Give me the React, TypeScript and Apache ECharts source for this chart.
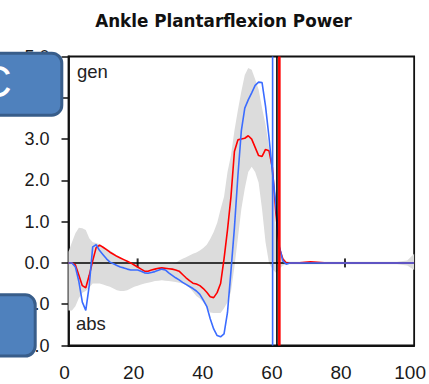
import React, { useEffect, useRef } from "react";
import * as echarts from "echarts";

// % gait cycle sample positions
const gaitPct = [
  0, 1, 2, 3, 4, 5, 6, 7, 8, 9,
  10, 11, 12, 13, 14, 15, 16, 17, 18, 19,
  20, 21, 22, 23, 24, 25, 26, 27, 28, 29,
  30, 31, 32, 33, 34, 35, 36, 37, 38, 39,
  40, 41, 42, 43, 44, 45, 46, 47, 48, 49,
  50, 51, 52, 53, 54, 55, 56, 57, 58, 59,
  60, 61, 62, 63, 64, 66, 70, 75, 80, 85,
  90, 95, 98, 100,
];

// normal band (mean ± SD), W/kg
const normUpper = [
  0.27, 0.5, 0.72, 0.85, 0.84, 0.8, 0.6, 0.5, 0.48, 0.45,
  0.4, 0.35, 0.3, 0.24, 0.18, 0.12, 0.08, 0.04, 0.0, -0.02,
  -0.02, -0.02, -0.02, -0.02, -0.02, -0.02, -0.02, -0.02, -0.02, -0.02,
  -0.02, 0.0, 0.06, 0.1, 0.14, 0.18, 0.22, 0.25, 0.3, 0.36,
  0.44, 0.58, 0.75, 0.97, 1.3, 1.6, 2.2, 2.6, 3.2, 3.7,
  4.15, 4.55, 4.72, 4.68, 4.45, 4.2, 3.75, 3.35, 2.8, 2.2,
  0.8, 0.3, 0.1, 0.04, 0.03, 0.03, 0.03, 0.03, 0.03, 0.03,
  0.03, 0.03, 0.06, 0.22,
];
const normLower = [
  -1.15, -1.15, -1.05, -0.85, -0.72, -0.68, -0.6, -0.5, -0.5, -0.5,
  -0.52, -0.55, -0.58, -0.62, -0.66, -0.68, -0.68, -0.66, -0.62, -0.58,
  -0.55, -0.52, -0.5, -0.48, -0.46, -0.44, -0.43, -0.42, -0.43, -0.44,
  -0.45, -0.46, -0.48, -0.5, -0.54, -0.6, -0.7, -0.8, -0.86, -0.95,
  -1.08, -1.2, -1.21, -1.21, -1.21, -1.1, -0.95, -0.7, -0.1, 0.6,
  1.3, 1.8, 2.2, 2.33, 2.2, 1.95, 1.3, 0.5, 0.0, -0.15,
  -0.24, -0.15, -0.06, -0.04, -0.03, -0.03, -0.03, -0.03, -0.03, -0.03,
  -0.03, -0.03, -0.06, -0.17,
];

// patient curves
const redPower = [
  0, 0, -0.05, -0.3, -0.55, -0.6, -0.3, 0.05, 0.37, 0.43,
  0.38, 0.32, 0.26, 0.21, 0.16, 0.12, 0.08, 0.04, 0.0, -0.05,
  -0.1, -0.15, -0.2, -0.2, -0.17, -0.15, -0.13, -0.12, -0.13, -0.14,
  -0.15, -0.17, -0.2, -0.28, -0.36, -0.43, -0.49, -0.51, -0.55, -0.62,
  -0.71, -0.82, -0.84, -0.72, -0.5, 0.1, 0.8, 1.6, 2.7, 2.98,
  3.0, 3.02, 3.08, 3.0, 2.8, 2.6, 2.58, 2.75, 2.72, 2.3,
  1.2, 0.36, 0.1, 0, 0, 0, 0.03, 0, 0, 0,
  0, 0, 0, 0,
];
const bluePower = [
  0, 0, -0.1, -0.45, -0.95, -1.15, -0.55, 0.39, 0.44, 0.3,
  0.2, 0.1, 0.02, -0.02, -0.06, -0.1, -0.12, -0.15, -0.17, -0.17,
  -0.17, -0.2, -0.24, -0.25, -0.23, -0.21, -0.18, -0.15, -0.17, -0.24,
  -0.3, -0.36, -0.41, -0.47, -0.52, -0.57, -0.62, -0.68, -0.76, -0.9,
  -1.05, -1.35, -1.6, -1.76, -1.79, -1.72, -1.2, -0.2, 0.85, 2.1,
  3.2, 3.75, 3.95, 4.12, 4.3, 4.38, 4.37, 3.8, 3.05, 2.2,
  1.4, 0.4, 0.05, -0.03, 0, 0, 0, 0, 0, 0,
  0, 0, 0, 0,
];

// toe-off markers (% gait cycle)
const toeOffBlue = 59.05;
const toeOffNormal = 60.3;
const toeOffRed = 61.0;

// ticks shown on the zero line
const zeroLineTicks = [20, 80];

const Y_MIN = -2;
const Y_MAX = 5;

export default function App() {
  const ref = useRef<HTMLDivElement>(null);

  useEffect(() => {
    const chart = echarts.init(ref.current as HTMLDivElement, null, { renderer: "svg" });
    const pairs = (ys: number[]) => gaitPct.map((x, i) => [x, ys[i]]);
    const bandData = gaitPct.map((x, i) => [x, normUpper[i], normLower[i]]);
    const vline = (x: number) => [[x, Y_MIN], [x, Y_MAX]];
    const font = "'Liberation Sans', Arial, sans-serif";

    const renderBand = (params: any, api: any) => {
      if (params.dataIndex !== 0) return null;
      const top = gaitPct.map((x, i) => api.coord([x, normUpper[i]]));
      const bottom = gaitPct.map((x, i) => api.coord([x, normLower[i]])).reverse();
      return {
        type: "polygon",
        shape: { points: top.concat(bottom) },
        style: { fill: "#dcdcdc", stroke: "none" },
        silent: true,
      };
    };

    chart.setOption({
      animation: false,
      textStyle: { fontFamily: font },
      grid: {
        left: 68.5,
        right: 12.5,
        top: 56.5,
        bottom: 38.5,
        show: true,
        borderColor: "#111",
        borderWidth: 1.8,
        backgroundColor: "transparent",
      },
      xAxis: {
        type: "value",
        min: 0,
        max: 100,
        interval: 20,
        axisLine: { show: true, onZero: false, lineStyle: { color: "#111", width: 1.8 } },
        axisTick: { show: false },
        splitLine: { show: false },
        axisLabel: {
          fontSize: 19,
          color: "#1a1a1a",
          fontFamily: font,
          margin: 17,
          padding: [0, 8, 0, 0],
        },
      },
      yAxis: {
        type: "value",
        min: Y_MIN,
        max: Y_MAX,
        interval: 1,
        axisLine: { show: true, lineStyle: { color: "#111", width: 1.8 } },
        axisTick: { show: true, length: 7, lineStyle: { color: "#111", width: 1.5 } },
        splitLine: { show: false },
        axisLabel: {
          fontSize: 18,
          color: "#1a1a1a",
          fontFamily: font,
          margin: 19,
          formatter: (v: number) => v.toFixed(1),
        },
      },
      series: [
        {
          type: "line",
          data: [[0, 0], [100, 0]],
          symbol: "none",
          silent: true,
          lineStyle: { color: "#000", width: 1.5 },
        },
        {
          type: "custom",
          data: bandData,
          encode: { x: 0, y: [1, 2] },
          renderItem: renderBand,
          silent: true,
        },
        {
          type: "scatter",
          data: zeroLineTicks.map((x) => [x, 0]),
          symbol: "rect",
          symbolSize: [2, 9],
          silent: true,
          itemStyle: { color: "#000" },
        },
        {
          type: "line",
          data: pairs(redPower),
          symbol: "none",
          lineStyle: { color: "#ff0000", width: 1.6 },
        },
        {
          type: "line",
          data: pairs(bluePower),
          symbol: "none",
          lineStyle: { color: "#3b6cff", width: 1.6 },
        },
        {
          type: "line",
          data: vline(toeOffBlue),
          symbol: "none",
          lineStyle: { color: "#3b6cff", width: 1.6 },
        },
        {
          type: "line",
          data: vline(toeOffNormal),
          symbol: "none",
          lineStyle: { color: "#000", width: 1.6 },
        },
        {
          type: "line",
          data: vline(toeOffRed),
          symbol: "none",
          lineStyle: { color: "#ff0000", width: 2.6 },
        },
      ],
      graphic: [
        {
          type: "text",
          x: 223.5,
          y: 21,
          z: 100,
          style: {
            text: "Ankle Plantarflexion Power",
            fontSize: 16.8,
            fontWeight: "bold",
            fontFamily: "'DejaVu Sans', sans-serif",
            fill: "#111",
            align: "center",
            verticalAlign: "middle",
            textAlign: "center",
            textVerticalAlign: "middle",
          },
        },
        {
          type: "text",
          x: 77,
          y: 71.5,
          z: 100,
          style: {
            text: "gen",
            fontSize: 18.5,
            fontFamily: font,
            fill: "#222",
            align: "left",
            verticalAlign: "middle",
            textAlign: "left",
            textVerticalAlign: "middle",
          },
        },
        {
          type: "text",
          x: 76,
          y: 323.5,
          z: 100,
          style: {
            text: "abs",
            fontSize: 18.5,
            fontFamily: font,
            fill: "#222",
            align: "left",
            verticalAlign: "middle",
            textAlign: "left",
            textVerticalAlign: "middle",
          },
        },
        {
          type: "rect",
          z: 100,
          shape: { x: -40, y: 53.2, width: 101.8, height: 62, r: 10 },
          style: { fill: "#4f81bd", stroke: "#385d8a", lineWidth: 3 },
        },
        {
          type: "text",
          x: -4,
          y: 81,
          z: 101,
          style: {
            text: "C",
            fontSize: 44,
            fontFamily: font,
            fill: "#ffffff",
            align: "center",
            verticalAlign: "middle",
            textAlign: "center",
            textVerticalAlign: "middle",
          },
        },
        {
          type: "rect",
          z: 100,
          shape: { x: -40, y: 294.8, width: 75.2, height: 61.2, r: 10 },
          style: { fill: "#4f81bd", stroke: "#385d8a", lineWidth: 3 },
        },
      ],
    });

    return () => chart.dispose();
  }, []);

  return (
    <div
      ref={ref}
      style={{ position: "fixed", left: 0, top: 0, width: 429, height: 384, background: "#fff" }}
    />
  );
}
